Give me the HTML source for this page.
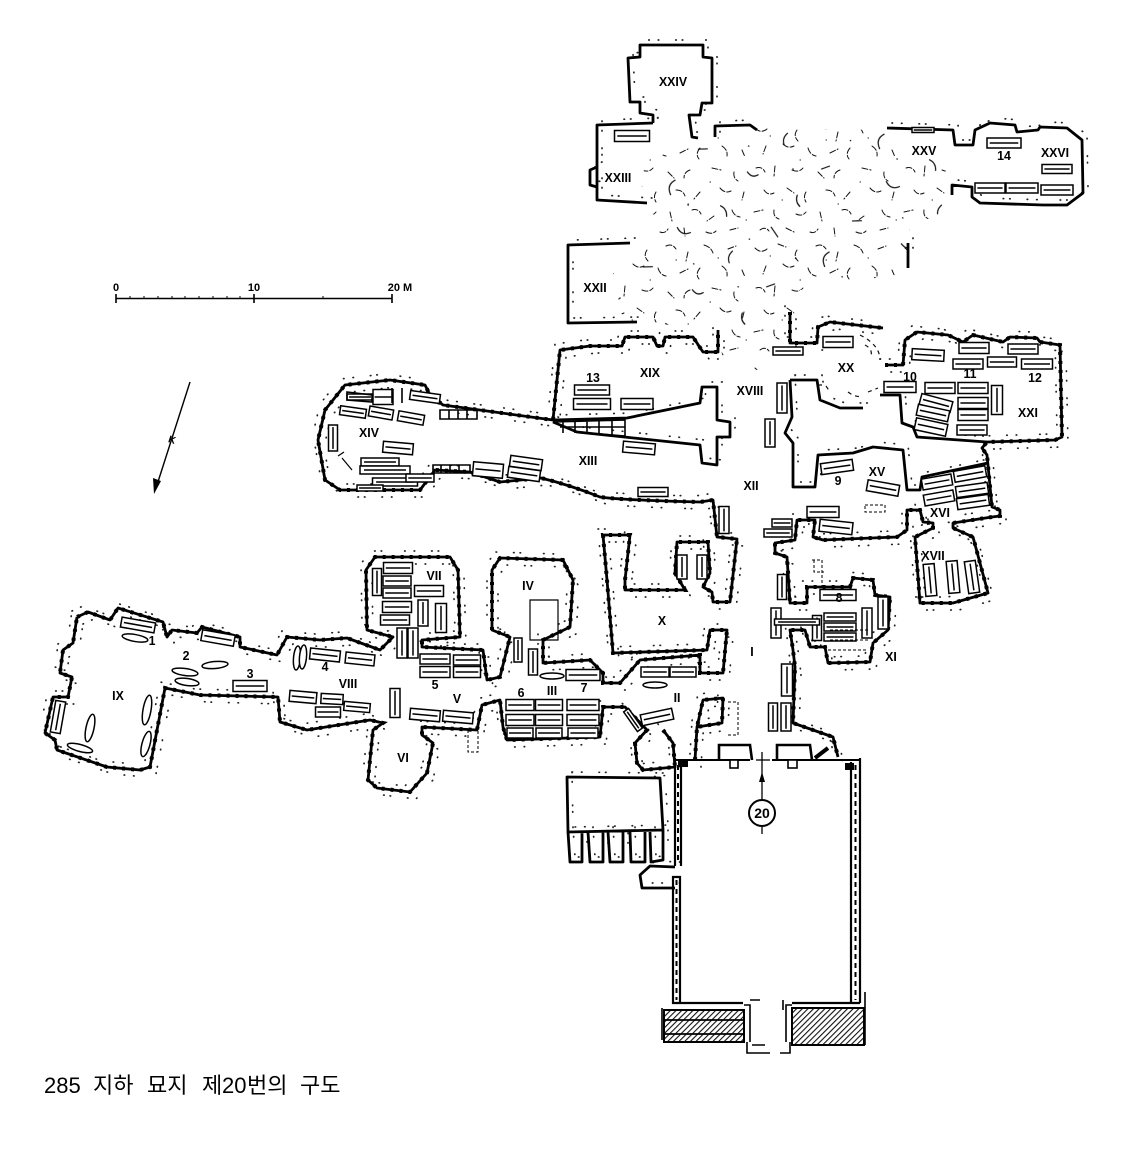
<!DOCTYPE html>
<html>
<head>
<meta charset="utf-8">
<style>
html,body{margin:0;padding:0;background:#fff}
svg{display:block}
text{font-family:"Liberation Sans",sans-serif;fill:#000;text-anchor:middle}
.l{font-size:13px;font-weight:bold}
.w{fill:none;stroke:#000;stroke-width:2.8;stroke-linejoin:round}
.r{fill:none;stroke:#000;stroke-width:4;stroke-dasharray:3 6}
.d{fill:none;stroke:#222;stroke-width:1.7;stroke-dasharray:.5 9 .5 17 .5 6 .5 23;stroke-linecap:round}
use{fill:#fff}
.t rect,.t line{vector-effect:non-scaling-stroke;stroke:#000;stroke-width:1.5}
.c{font-family:"Liberation Sans","Noto Sans CJK KR",sans-serif;font-size:22px;text-anchor:start}
</style>
</head>
<body>
<svg width="1124" height="1170" viewBox="0 0 1124 1170" xmlns="http://www.w3.org/2000/svg">
<defs>
<g id="t" class="t"><rect x="-.5" y="-.5" width="1" height="1"/><line x1="-.42" y1="0" x2=".42" y2="0"/></g>
<g id="v" class="t"><rect x="-.5" y="-.5" width="1" height="1"/><line x1="0" y1="-.42" x2="0" y2=".42"/></g>
<pattern id="rub" width="150" height="120" patternUnits="userSpaceOnUse">
<path fill="none" stroke="#111" stroke-width="1" stroke-linecap="round" stroke-dasharray="6 2" d="M5 8q6 6 12 1M28 4l8 3M47 10q-4 6 1 11M66 6q6-3 10 3M88 12l-2 9M104 5q7 2 9 8M128 9l8-3M16 26l-3 8M33 24q5 5 11 2M58 28q2 7 8 8M80 33l8-4M100 28q-5 6-1 11M122 26q6 4 5 10M142 30l3 7M6 48q6-2 9 4M25 46l-1 10M42 50q7 3 11-2M68 52l6 6M90 50q-6 2-6 8M112 48l9 2M134 52q-1 6 4 9M14 70q4 6 10 3M37 68l7 5M56 72q-3 5 0 10M76 70q7 0 9 6M100 72l-6 7M120 68q5 6 11 3M144 72l-2 8M4 92l9-2M24 90q-1 7 5 9M46 94q6 3 10-2M70 92l2 9M92 90q6-2 9 4M114 96l-7 5M132 90q2 6 8 7M10 110q5-4 9 1M36 108l8 4M60 112q5 2 8-3M84 108l1 8M106 112q6 3 10-1M130 110l8-2M20 16h.5M76 20h.5M118 18h.5M50 40h.5M110 62h.5M32 80h.5M88 84h.5M146 100h.5"/>
</pattern>
<pattern id="rub2" width="170" height="130" patternUnits="userSpaceOnUse" patternTransform="rotate(25)">
<path fill="none" stroke="#111" stroke-width="1.2" stroke-linecap="round" d="M8 8q-6 8 2 15M60 12q7 0 10 7M115 10l10 6M30 50q8 6 14-1M90 48q-3 7 2 12M142 60l-6 6M16 100l8-4M70 100q7 4 11-2M125 100q1 7 7 9M30 25h.5M100 30h.5M150 28h.5M60 76h.5M110 78h.5"/>
</pattern>
<pattern id="hat" width="4" height="4" patternUnits="userSpaceOnUse" patternTransform="rotate(-45)">
<rect width="4" height="4" fill="#fff"/><rect width="4" height="1.1" fill="#111"/>
</pattern>
<path id="o" d="M77 617L88 612L110 620L118 608L163 622L167 637L172 630L197 633L202 627L240 637L240 647L277 655L287 637L320 640L347 638L380 650L393 637L367 630L366 570L375 557L450 557L458 570L460 637L422 640L422 647L483 650L487 680L500 677L510 637L492 630L492 570L500 558L563 560L573 580L570 627L543 640L543 663L590 660L603 673L603 683L620 683L640 660L700 655L700 673L723 673L727 630L710 630L707 650L613 653L607 580L603 535L630 535L625 580L625 590L685 590L675 573L677 542L708 542L710 573L703 587L712 592L713 602L730 602L737 539L717 537L713 500L700 502Q620 500 600 497Q570 485 541 478L500 482L470 472L435 470L420 490L340 490L325 480L318 440L325 410L345 385L390 380L425 385L430 395L443 405L553 420L560 350L590 346L622 346L625 337L653 337L657 346L663 346L665 337L693 337L703 352L718 352L718 330M790 312L790 343L817 343L818 327L830 322L883 328M885 365L903 365L905 340L917 332L948 335L963 342L973 335L1003 342L1010 337L1037 338L1040 342L1060 345L1062 437L1055 440L987 442L982 448L987 455L992 507L1000 510L1000 516L992 517L953 523L953 528L973 537L988 593L953 603L920 603L915 537L933 528L933 523L923 522L920 510L907 510L907 530L897 537L823 540L813 537L815 520L797 520L795 540L775 543L775 553L787 557L790 603L807 603L807 587L850 587L853 578L873 580L875 595L890 597L888 630L873 643L870 662L828 663L825 647L810 647L805 630L790 630L793 650L795 667L793 723L833 737L838 757M695 760L697 727L703 700L723 698L722 723L697 727M663 730L673 743L675 767L643 770L637 763L635 743L647 730L625 707L603 707L600 737L507 740L503 727L500 700L482 705L477 730L422 727L422 735L433 743L427 773L410 792L377 788L368 780L373 730L383 723L370 720L307 730L280 722L278 697L200 695L165 688L150 767L140 770L107 767L57 750L55 740L45 733L53 697L68 697L72 677L60 673L63 650L73 643L77 617"/>
<path id="w2" d="M553 422L577 432L700 445L702 463L717 465L717 437L730 437L730 422L717 420L717 387L702 387L700 403L627 418L553 420M790 380L817 380L820 400L840 408L863 408M880 395L900 395L902 423L913 427L917 437L987 442M790 380L792 417L785 433L793 443L793 487L815 487L818 455L853 453L873 447L903 450L907 490L920 490L922 477L988 463M567 777L660 778L663 830L568 832ZM630 243L568 245L568 323L637 322M653 123L597 125L597 200L647 203M653 123L653 115L640 113L640 102L630 102L628 58L640 57L640 45L703 45L703 57L712 58L712 103L702 103L700 115L689 115L692 137L698 138M715 137L715 126L750 125L757 130M887 128L953 130L955 145L973 145L975 130L990 123L1015 125L1017 132L1038 130L1040 127L1067 128L1082 140L1083 193L1067 205L1043 205L980 203L972 197L972 187L952 185L952 195M568 832L570 862L582 862L582 832M588 832L590 862L603 862L603 832M608 832L610 862L623 862L623 832M630 832L631 862L645 862L645 832M650 832L651 862L663 860L663 830M675 867L650 866L640 875L642 888L675 888M597 167L590 170L590 185L597 187M908 243V268"/>
</defs>

<path d="M647 160L717 137L757 128L883 130L907 150L943 163L952 190L947 210L910 227L907 273L800 290L790 330L772 353L757 370L723 360L718 330L623 320L613 273L650 247L653 207L640 183Z" fill="url(#rub)"/>
<path d="M647 160L717 137L757 128L883 130L907 150L943 163L952 190L947 210L910 227L907 273L800 290L790 330L772 353L757 370L723 360L718 330L623 320L613 273L650 247L653 207L640 183Z" fill="url(#rub2)"/>

<use href="#o" class="d" transform="translate(-5 -6)" style="fill:none"/>
<use href="#o" class="d" transform="translate(6 7)" style="fill:none"/>
<use href="#w2" class="d" transform="translate(5 -5)" style="fill:none"/>
<use href="#o" class="r" style="fill:none"/>
<use href="#o" class="w" style="fill:none"/>
<use href="#w2" class="w" style="fill:none"/>

<!-- XX rubble -->
<g fill="none" stroke="#111" stroke-width="1.2" stroke-dasharray="4 4">
<path d="M860 335Q880 345 880 360M865 345q8 4 6 12M848 392q8 6 14 4M868 392l10-4M826 386l4 6M818 385h8"/>
</g>

<!-- court -->
<g fill="none" stroke="#000">
<path d="M675 760H750M772 760H860" stroke-width="2"/>
<path d="M675 758V866M681 762V866M673 877V1003H680V877ZM851 762V1003M860 758V1003M680 1003H743M792 1003H860" stroke-width="2.2"/>
<path d="M678 765V864M676.5 880V1000M855.5 765V1000" stroke-width="2" stroke-dasharray="5 4"/>
<path d="M719 760V745L750 745L752 760M777 760V745L810 745L812 760" stroke-width="2.6"/>
<path d="M815 758L828 748" stroke-width="4"/>
<circle cx="762" cy="813" r="13" stroke-width="2"/>
<path d="M762 752V800M762 826V834" stroke-width="1.3"/>
<path d="M756 760H770" stroke-width="1.3"/>
</g>
<rect x="678" y="760" width="10" height="7"/><rect x="845" y="763" width="9" height="7"/>
<rect x="730" y="760" width="8" height="8" fill="#fff" stroke="#000" stroke-width="1.6"/>
<rect x="788" y="760" width="9" height="8" fill="#fff" stroke="#000" stroke-width="1.6"/>
<path d="M762 772L759 782H765Z"/>
<rect x="664" y="1010" width="80" height="32" fill="url(#hat)" stroke="#000" stroke-width="2"/>
<rect x="792" y="1008" width="72" height="37" fill="url(#hat)" stroke="#000" stroke-width="2"/>
<g fill="none" stroke="#000" stroke-width="1.6">
<path d="M662 1008V1040M865 992V1045M744 1005H750V1042M792 1005H786V1042"/>
<path d="M750 1000H760M783 1000V1010M747 1042V1053H770M790 1042V1053H780M752 1045H765"/>
<path d="M665 1034H744M664 1020H744" stroke-width="1.8"/>
</g>
<text x="762" y="818" style="font-size:14px;font-weight:bold">20</text>

<!-- tombs -->
<g>
<use href="#t" transform="translate(632 136) scale(35 11)"/>
<use href="#t" transform="translate(923 130) scale(22 5)"/>
<use href="#t" transform="translate(1004 143) scale(34 10)"/>
<use href="#t" transform="translate(1057 169) scale(30 9)"/>
<use href="#t" transform="translate(990 188) scale(30 10)"/>
<use href="#t" transform="translate(1022 188) scale(32 10)"/>
<use href="#t" transform="translate(1057 190) scale(32 10)"/>
<use href="#t" transform="translate(592 390) scale(35 10)"/>
<use href="#t" transform="translate(592 404) scale(37 11)"/>
<use href="#t" transform="translate(637 404) scale(32 11)"/>
<use href="#t" transform="translate(639 448) rotate(5) scale(32 11)"/>
<use href="#t" transform="translate(653 492) scale(30 9)"/>
<use href="#v" transform="translate(724 520) scale(10 27)"/>
<use href="#t" transform="translate(488 470) rotate(5) scale(30 14)"/>
<use href="#t" transform="translate(526 463) rotate(8) scale(32 11)"/>
<use href="#t" transform="translate(524 474) rotate(8) scale(32 11)"/>
<use href="#v" transform="translate(333 438) scale(9 26)"/>
<use href="#t" transform="translate(398 448) rotate(5) scale(30 11)"/>
<use href="#t" transform="translate(381 413) rotate(10) scale(24 10)"/>
<use href="#t" transform="translate(411 418) rotate(10) scale(26 10)"/>
<use href="#t" transform="translate(425 397) rotate(8) scale(30 9)"/>
<use href="#t" transform="translate(353 412) rotate(8) scale(26 9)"/>
<use href="#t" transform="translate(380 462) scale(38 8)"/>
<use href="#t" transform="translate(385 470) scale(50 8)"/>
<use href="#t" transform="translate(395 482) scale(45 8)"/>
<use href="#t" transform="translate(420 478) scale(28 8)"/>
<use href="#t" transform="translate(370 488) scale(26 6)"/>
<use href="#t" transform="translate(360 397) scale(26 6)"/>
<use href="#t" transform="translate(383 397) scale(20 15)"/>
<use href="#t" transform="translate(138 625) rotate(10) scale(34 10)"/>
<use href="#t" transform="translate(218 638) rotate(10) scale(33 11)"/>
<use href="#t" transform="translate(250 686) scale(34 11)"/>
<use href="#t" transform="translate(325 655) rotate(6) scale(30 11)"/>
<use href="#t" transform="translate(360 659) rotate(6) scale(29 11)"/>
<use href="#t" transform="translate(303 697) rotate(5) scale(27 11)"/>
<use href="#t" transform="translate(332 699) rotate(3) scale(22 10)"/>
<use href="#t" transform="translate(328 712) scale(25 10)"/>
<use href="#t" transform="translate(357 707) rotate(5) scale(26 9)"/>
<use href="#v" transform="translate(395 703) scale(10 29)"/>
<use href="#t" transform="translate(425 715) rotate(5) scale(30 11)"/>
<use href="#t" transform="translate(458 717) rotate(5) scale(30 11)"/>
<use href="#t" transform="translate(398 568) scale(29 11)"/>
<use href="#t" transform="translate(397 581) scale(28 10)"/>
<use href="#t" transform="translate(397 593) scale(28 10)"/>
<use href="#t" transform="translate(397 607) scale(29 11)"/>
<use href="#t" transform="translate(395 620) scale(29 10)"/>
<use href="#t" transform="translate(429 591) scale(29 11)"/>
<use href="#v" transform="translate(423 613) scale(10 26)"/>
<use href="#v" transform="translate(441 618) scale(11 29)"/>
<use href="#v" transform="translate(377 582) scale(9 27)"/>
<use href="#v" transform="translate(402 643) scale(10 30)"/>
<use href="#v" transform="translate(413 643) scale(10 30)"/>
<use href="#t" transform="translate(435 659) scale(30 10)"/>
<use href="#t" transform="translate(467 660) scale(27 10)"/>
<use href="#t" transform="translate(435 672) scale(30 11)"/>
<use href="#t" transform="translate(467 672) scale(27 11)"/>
<use href="#t" transform="translate(520 705) scale(28 11)"/>
<use href="#t" transform="translate(549 705) scale(27 11)"/>
<use href="#t" transform="translate(583 705) scale(32 11)"/>
<use href="#t" transform="translate(520 720) scale(28 11)"/>
<use href="#t" transform="translate(549 720) scale(27 11)"/>
<use href="#t" transform="translate(583 720) scale(32 11)"/>
<use href="#t" transform="translate(520 733) scale(26 10)"/>
<use href="#t" transform="translate(549 733) scale(26 10)"/>
<use href="#t" transform="translate(583 733) scale(30 10)"/>
<use href="#v" transform="translate(518 650) scale(8 24)"/>
<use href="#v" transform="translate(533 662) scale(9 26)"/>
<use href="#t" transform="translate(583 675) scale(34 11)"/>
<use href="#t" transform="translate(655 672) scale(28 10)"/>
<use href="#t" transform="translate(683 672) scale(26 10)"/>
<use href="#t" transform="translate(657 717) rotate(-12) scale(32 11)"/>
<use href="#v" transform="translate(682 567) scale(10 24)"/>
<use href="#v" transform="translate(702 567) scale(10 24)"/>
<use href="#v" transform="translate(782 587) scale(9 25)"/>
<use href="#v" transform="translate(776 623) scale(10 30)"/>
<use href="#v" transform="translate(787 680) scale(11 32)"/>
<use href="#v" transform="translate(773 717) scale(9 28)"/>
<use href="#v" transform="translate(786 717) scale(10 28)"/>
<use href="#t" transform="translate(838 595) scale(36 11)"/>
<use href="#t" transform="translate(840 617) scale(32 8)"/>
<use href="#t" transform="translate(840 627) scale(32 8)"/>
<use href="#t" transform="translate(840 637) scale(32 8)"/>
<use href="#v" transform="translate(867 623) scale(10 30)"/>
<use href="#v" transform="translate(883 613) scale(10 32)"/>
<use href="#v" transform="translate(817 628) scale(9 25)"/>
<use href="#t" transform="translate(797 622) scale(45 6)"/>
<use href="#t" transform="translate(837 467) rotate(-8) scale(32 11)"/>
<use href="#t" transform="translate(883 488) rotate(10) scale(32 11)"/>
<use href="#t" transform="translate(823 512) scale(32 11)"/>
<use href="#t" transform="translate(836 527) rotate(6) scale(33 12)"/>
<use href="#t" transform="translate(838 342) scale(30 11)"/>
<use href="#t" transform="translate(788 351) scale(30 8)"/>
<use href="#v" transform="translate(782 398) scale(10 30)"/>
<use href="#v" transform="translate(770 433) scale(10 28)"/>
<use href="#t" transform="translate(782 523) scale(20 8)"/>
<use href="#t" transform="translate(778 533) scale(28 8)"/>
<use href="#t" transform="translate(900 387) scale(32 11)"/>
<use href="#t" transform="translate(928 355) rotate(3) scale(32 11)"/>
<use href="#t" transform="translate(974 348) scale(30 11)"/>
<use href="#t" transform="translate(968 364) scale(30 10)"/>
<use href="#t" transform="translate(1002 362) scale(29 10)"/>
<use href="#t" transform="translate(1023 349) scale(30 10)"/>
<use href="#t" transform="translate(1037 364) scale(31 10)"/>
<use href="#t" transform="translate(940 388) scale(30 11)"/>
<use href="#t" transform="translate(973 388) scale(30 11)"/>
<use href="#t" transform="translate(973 403) scale(30 11)"/>
<use href="#t" transform="translate(973 415) scale(30 11)"/>
<use href="#t" transform="translate(972 430) scale(30 10)"/>
<use href="#v" transform="translate(997 400) scale(11 29)"/>
<use href="#t" transform="translate(936 403) rotate(15) scale(32 11)"/>
<use href="#t" transform="translate(933 413) rotate(12) scale(32 11)"/>
<use href="#t" transform="translate(931 427) rotate(12) scale(32 12)"/>
<use href="#t" transform="translate(937 482) rotate(-10) scale(30 11)"/>
<use href="#t" transform="translate(939 498) rotate(-10) scale(30 11)"/>
<use href="#t" transform="translate(970 474) rotate(-10) scale(32 11)"/>
<use href="#t" transform="translate(972 490) rotate(-8) scale(32 11)"/>
<use href="#t" transform="translate(973 502) rotate(-8) scale(32 11)"/>
<use href="#v" transform="translate(930 580) rotate(-5) scale(11 32)"/>
<use href="#v" transform="translate(953 577) rotate(-5) scale(11 32)"/>
<use href="#v" transform="translate(972 577) rotate(-8) scale(11 32)"/>
<use href="#v" transform="translate(633 720) rotate(-35) scale(6 24)"/>
</g>

<!-- ovals, niches, brick rows -->
<g fill="#fff" stroke="#000" stroke-width="1.5">
<ellipse cx="135" cy="638" rx="13" ry="3.5" transform="rotate(10 135 638)"/>
<ellipse cx="215" cy="665" rx="13" ry="3.5" transform="rotate(-5 215 665)"/>
<ellipse cx="185" cy="672" rx="13" ry="3.5" transform="rotate(8 185 672)"/>
<ellipse cx="187" cy="682" rx="12" ry="3.5" transform="rotate(8 187 682)"/>
<ellipse cx="147" cy="710" rx="4" ry="15" transform="rotate(10 147 710)"/>
<ellipse cx="146" cy="744" rx="4" ry="13" transform="rotate(15 146 744)"/>
<ellipse cx="90" cy="728" rx="4" ry="14" transform="rotate(12 90 728)"/>
<ellipse cx="80" cy="748" rx="13" ry="3.5" transform="rotate(15 80 748)"/>
<ellipse cx="297" cy="658" rx="3.5" ry="12" transform="rotate(5 297 658)"/>
<ellipse cx="303" cy="657" rx="3.5" ry="12" transform="rotate(5 303 657)"/>
<ellipse cx="552" cy="676" rx="12" ry="3"/>
<ellipse cx="655" cy="685" rx="12" ry="3"/>
</g>
<use href="#v" transform="translate(58 717) rotate(10) scale(10 32)"/>
<g fill="none" stroke="#000" stroke-width="1.6">
<path d="M440 410H477V419H440ZM449 410V419M458 410V419M467 410V419"/>
<path d="M433 465H470V473H433ZM441 465V473M450 465V473M459 465V473"/>
<path d="M553 422L625 420V436L577 432ZM563 422V433M575 421V433M587 421V434M599 421V435M612 421V436M560 427H625"/>
<path d="M347 392L372 395L372 402L347 400ZM392 388V403M402 388V403"/>
</g>
<g fill="none" stroke="#000" stroke-width="1" stroke-dasharray="3 2">
<path d="M865 505H885V512H865ZM830 630H870M830 640H870M828 650H868"/>
<path d="M814 560V572H824M812 560H822V590"/>
<path d="M728 702H738V735H728M468 730V752H478V730"/>
</g>
<path d="M344 452L338 456M342 458L352 470" stroke="#000" fill="none" stroke-width="1.2"/>
<path d="M530 600H558V640H530Z" stroke="#000" fill="none" stroke-width="1.2"/>

<!-- scale -->
<g stroke="#000" fill="none">
<path d="M116 298.5H392" stroke-width="1.6"/>
<path d="M116 294V303M254 294V303M392 294V303" stroke-width="1.6"/>
<path d="M130 296V298M144 296V298M158 296V298M172 296V298M185 296V298M199 296V298M213 296V298M227 296V298M240 296V298M323 296V298" stroke-width="1"/>
<path d="M190 382L156 488" stroke-width="1.4"/>
</g>
<path d="M154 494L153 478L161 481Z"/>
<text class="l" transform="translate(116 291)" style="font-size:11px">0</text>
<text class="l" transform="translate(254 291)" style="font-size:11px">10</text>
<text class="l" transform="translate(400 291)" style="font-size:11px">20 M</text>
<text class="l" transform="translate(171 443) rotate(18)" style="font-size:10px">K</text>

<!-- labels -->
<g>
<text class="l" transform="translate(673 86) scale(.95 1)">XXIV</text>
<text class="l" transform="translate(618 182) scale(.95 1)">XXIII</text>
<text class="l" transform="translate(924 155) scale(.95 1)">XXV</text>
<text class="l" transform="translate(1055 157) scale(.95 1)">XXVI</text>
<text class="l" transform="translate(1004 160) scale(.95 1)">14</text>
<text class="l" transform="translate(595 292) scale(.95 1)">XXII</text>
<text class="l" transform="translate(650 377) scale(.95 1)">XIX</text>
<text class="l" transform="translate(593 382) scale(.95 1)">13</text>
<text class="l" transform="translate(750 395) scale(.95 1)">XVIII</text>
<text class="l" transform="translate(846 372) scale(.95 1)">XX</text>
<text class="l" transform="translate(910 381) scale(.95 1)">10</text>
<text class="l" transform="translate(970 378) scale(.95 1)">11</text>
<text class="l" transform="translate(1035 382) scale(.95 1)">12</text>
<text class="l" transform="translate(1028 417) scale(.95 1)">XXI</text>
<text class="l" transform="translate(369 437) scale(.95 1)">XIV</text>
<text class="l" transform="translate(588 465) scale(.95 1)">XIII</text>
<text class="l" transform="translate(751 490) scale(.95 1)">XII</text>
<text class="l" transform="translate(877 476) scale(.95 1)">XV</text>
<text class="l" transform="translate(838 485) scale(.95 1)">9</text>
<text class="l" transform="translate(940 517) scale(.95 1)">XVI</text>
<text class="l" transform="translate(933 560) scale(.95 1)">XVII</text>
<text class="l" transform="translate(839 602) scale(.95 1)">8</text>
<text class="l" transform="translate(891 661) scale(.95 1)">XI</text>
<text class="l" transform="translate(662 625) scale(.95 1)">X</text>
<text class="l" transform="translate(752 656) scale(.95 1)">I</text>
<text class="l" transform="translate(528 590) scale(.95 1)">IV</text>
<text class="l" transform="translate(434 580) scale(.95 1)">VII</text>
<text class="l" transform="translate(152 645) scale(.95 1)">1</text>
<text class="l" transform="translate(186 660) scale(.95 1)">2</text>
<text class="l" transform="translate(250 678) scale(.95 1)">3</text>
<text class="l" transform="translate(325 671) scale(.95 1)">4</text>
<text class="l" transform="translate(435 689) scale(.95 1)">5</text>
<text class="l" transform="translate(521 697) scale(.95 1)">6</text>
<text class="l" transform="translate(552 695) scale(.95 1)">III</text>
<text class="l" transform="translate(584 692) scale(.95 1)">7</text>
<text class="l" transform="translate(677 702) scale(.95 1)">II</text>
<text class="l" transform="translate(457 703) scale(.95 1)">V</text>
<text class="l" transform="translate(348 688) scale(.95 1)">VIII</text>
<text class="l" transform="translate(118 700) scale(.95 1)">IX</text>
<text class="l" transform="translate(403 762) scale(.95 1)">VI</text>
</g>

<text class="c" y="1093"><tspan x="44">285 </tspan><tspan x="93">지하 </tspan><tspan x="147">묘지 </tspan><tspan x="202">제</tspan><tspan x="222">20</tspan><tspan x="247">번의 </tspan><tspan x="300">구도</tspan></text>
</svg>
</body>
</html>
